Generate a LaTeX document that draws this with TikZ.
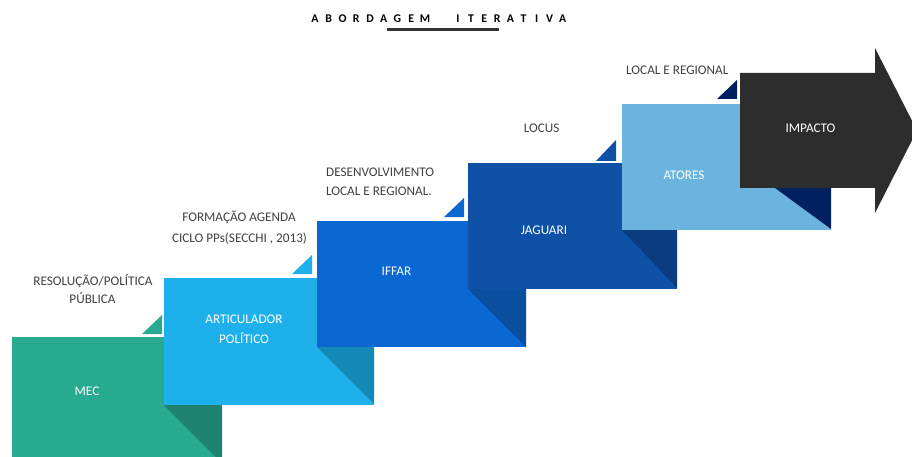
\documentclass[tikz,border=0pt]{standalone}
\usepackage{fontspec}
\setmainfont{Carlito}
\definecolor{mecC}{RGB}{39,170,143}
\definecolor{mecD}{RGB}{30,130,110}
\definecolor{artC}{RGB}{29,176,234}
\definecolor{artD}{RGB}{20,136,182}
\definecolor{iffC}{RGB}{11,103,210}
\definecolor{iffD}{RGB}{10,78,160}
\definecolor{jagC}{RGB}{14,81,167}
\definecolor{jagD}{RGB}{11,60,127}
\definecolor{atoC}{RGB}{108,180,224}
\definecolor{navyC}{RGB}{0,32,96}
\definecolor{impC}{RGB}{45,45,45}
\definecolor{lblC}{RGB}{64,64,64}
\definecolor{lineC}{RGB}{51,51,51}
\begin{document}
\begin{tikzpicture}[x=1pt,y=-1pt,
  stepbox/.style={rectangle, anchor=north west, inner sep=0pt, outer sep=0pt,
    minimum width=210pt, minimum height=127pt, draw=none},
  boxtxt/.style={anchor=base, inner sep=0pt, text=white, font=\fontsize{13.2}{19}\selectfont},
  lbltxt/.style={anchor=base, inner sep=0pt, text=lblC, font=\fontsize{13.2}{19}\selectfont},
  lblleft/.style={lbltxt, anchor=base west},
  titlelet/.style={anchor=base, inner sep=0pt, text=black, font=\fontsize{11.8}{14}\selectfont\bfseries}]
\useasboundingbox (0,0) rectangle (912,457);
\clip (0,0) rectangle (912,457);

% title
\foreach \l [count=\i from 0] in {A,B,O,R,D,A,G,E,M}
  \node[titlelet] (ta\i) at (315+13.75*\i,22.6) {\l};
\foreach \l [count=\i from 0] in {I,T,E,R,A,T,I,V,A}
  \node[titlelet] (tb\i) at (458+13.1*\i,22.6) {\l};
\fill[lineC] (387,28) rectangle (499,31);

% MEC
\node[stepbox, fill=mecC] (mec) at (12,337) {};
\fill[mecD] (164,405) -- (222,405) -- (222,463) -- cycle;
\fill[mecC] (142,334) -- (162,315) -- (162,334) -- cycle;
% ARTICULADOR
\node[stepbox, fill=artC] (art) at (164,278) {};
\fill[artD] (317,347) -- (374,347) -- (374,404) -- cycle;
\fill[artC] (292,274) -- (312,255) -- (312,274) -- cycle;
% IFFAR
\node[stepbox, fill=iffC, minimum width=209pt, minimum height=126pt] (iff) at (317,221) {};
\fill[iffD] (468,289) -- (526,289) -- (526,347) -- cycle;
\fill[iffC] (444,217) -- (464,198) -- (464,217) -- cycle;
% JAGUARI
\node[stepbox, fill=jagC, minimum width=209pt, minimum height=126pt] (jag) at (468,163) {};
\fill[jagD] (622,230) -- (677,230) -- (677,288) -- cycle;
\fill[jagC] (596,161) -- (616,140) -- (616,161) -- cycle;
% ATORES
\node[stepbox, fill=atoC, minimum width=209pt, minimum height=126pt] (ato) at (622,104) {};
\fill[navyC] (775,188) -- (831,188) -- (831,229) -- cycle;
\fill[navyC] (717,99) -- (737,80) -- (737,99) -- cycle;
% IMPACTO arrow
\fill[impC] (740,73) -- (875,73) -- (875,48) -- (917,130.5) -- (875,213) -- (875,188) -- (740,188) -- cycle;

% box texts
\node[boxtxt] (tmec) at (87,395) {MEC};
\node[boxtxt] (tart1) at (244,323) {ARTICULADOR};
\node[boxtxt] (tart2) at (244,343) {POLÍTICO};
\node[boxtxt] (tiff) at (396.5,275) {IFFAR};
\node[boxtxt] (tjag) at (544,234) {JAGUARI};
\node[boxtxt] (tato) at (684,179) {ATORES};
\node[boxtxt] (timp) at (810.5,133) {IMPACTO};

% labels
\node[lbltxt] (l1a) at (93,285) {RESOLUÇÃO/POLÍTICA};
\node[lbltxt] (l1b) at (92.5,303) {PÚBLICA};
\node[lbltxt] (l2a) at (239,221) {FORMAÇÃO AGENDA};
\node[lbltxt] (l2b) at (239.5,242) {CICLO PPs(SECCHI , 2013)};
\node[lblleft] (l3a) at (326,177) {DESENVOLVIMENTO};
\node[lblleft] (l3b) at (326,196) {LOCAL E REGIONAL.};
\node[lbltxt] (l4) at (541.7,133) {LOCUS};
\node[lblleft] (l5) at (626,75) {LOCAL E REGIONAL};
\end{tikzpicture}
\end{document}
